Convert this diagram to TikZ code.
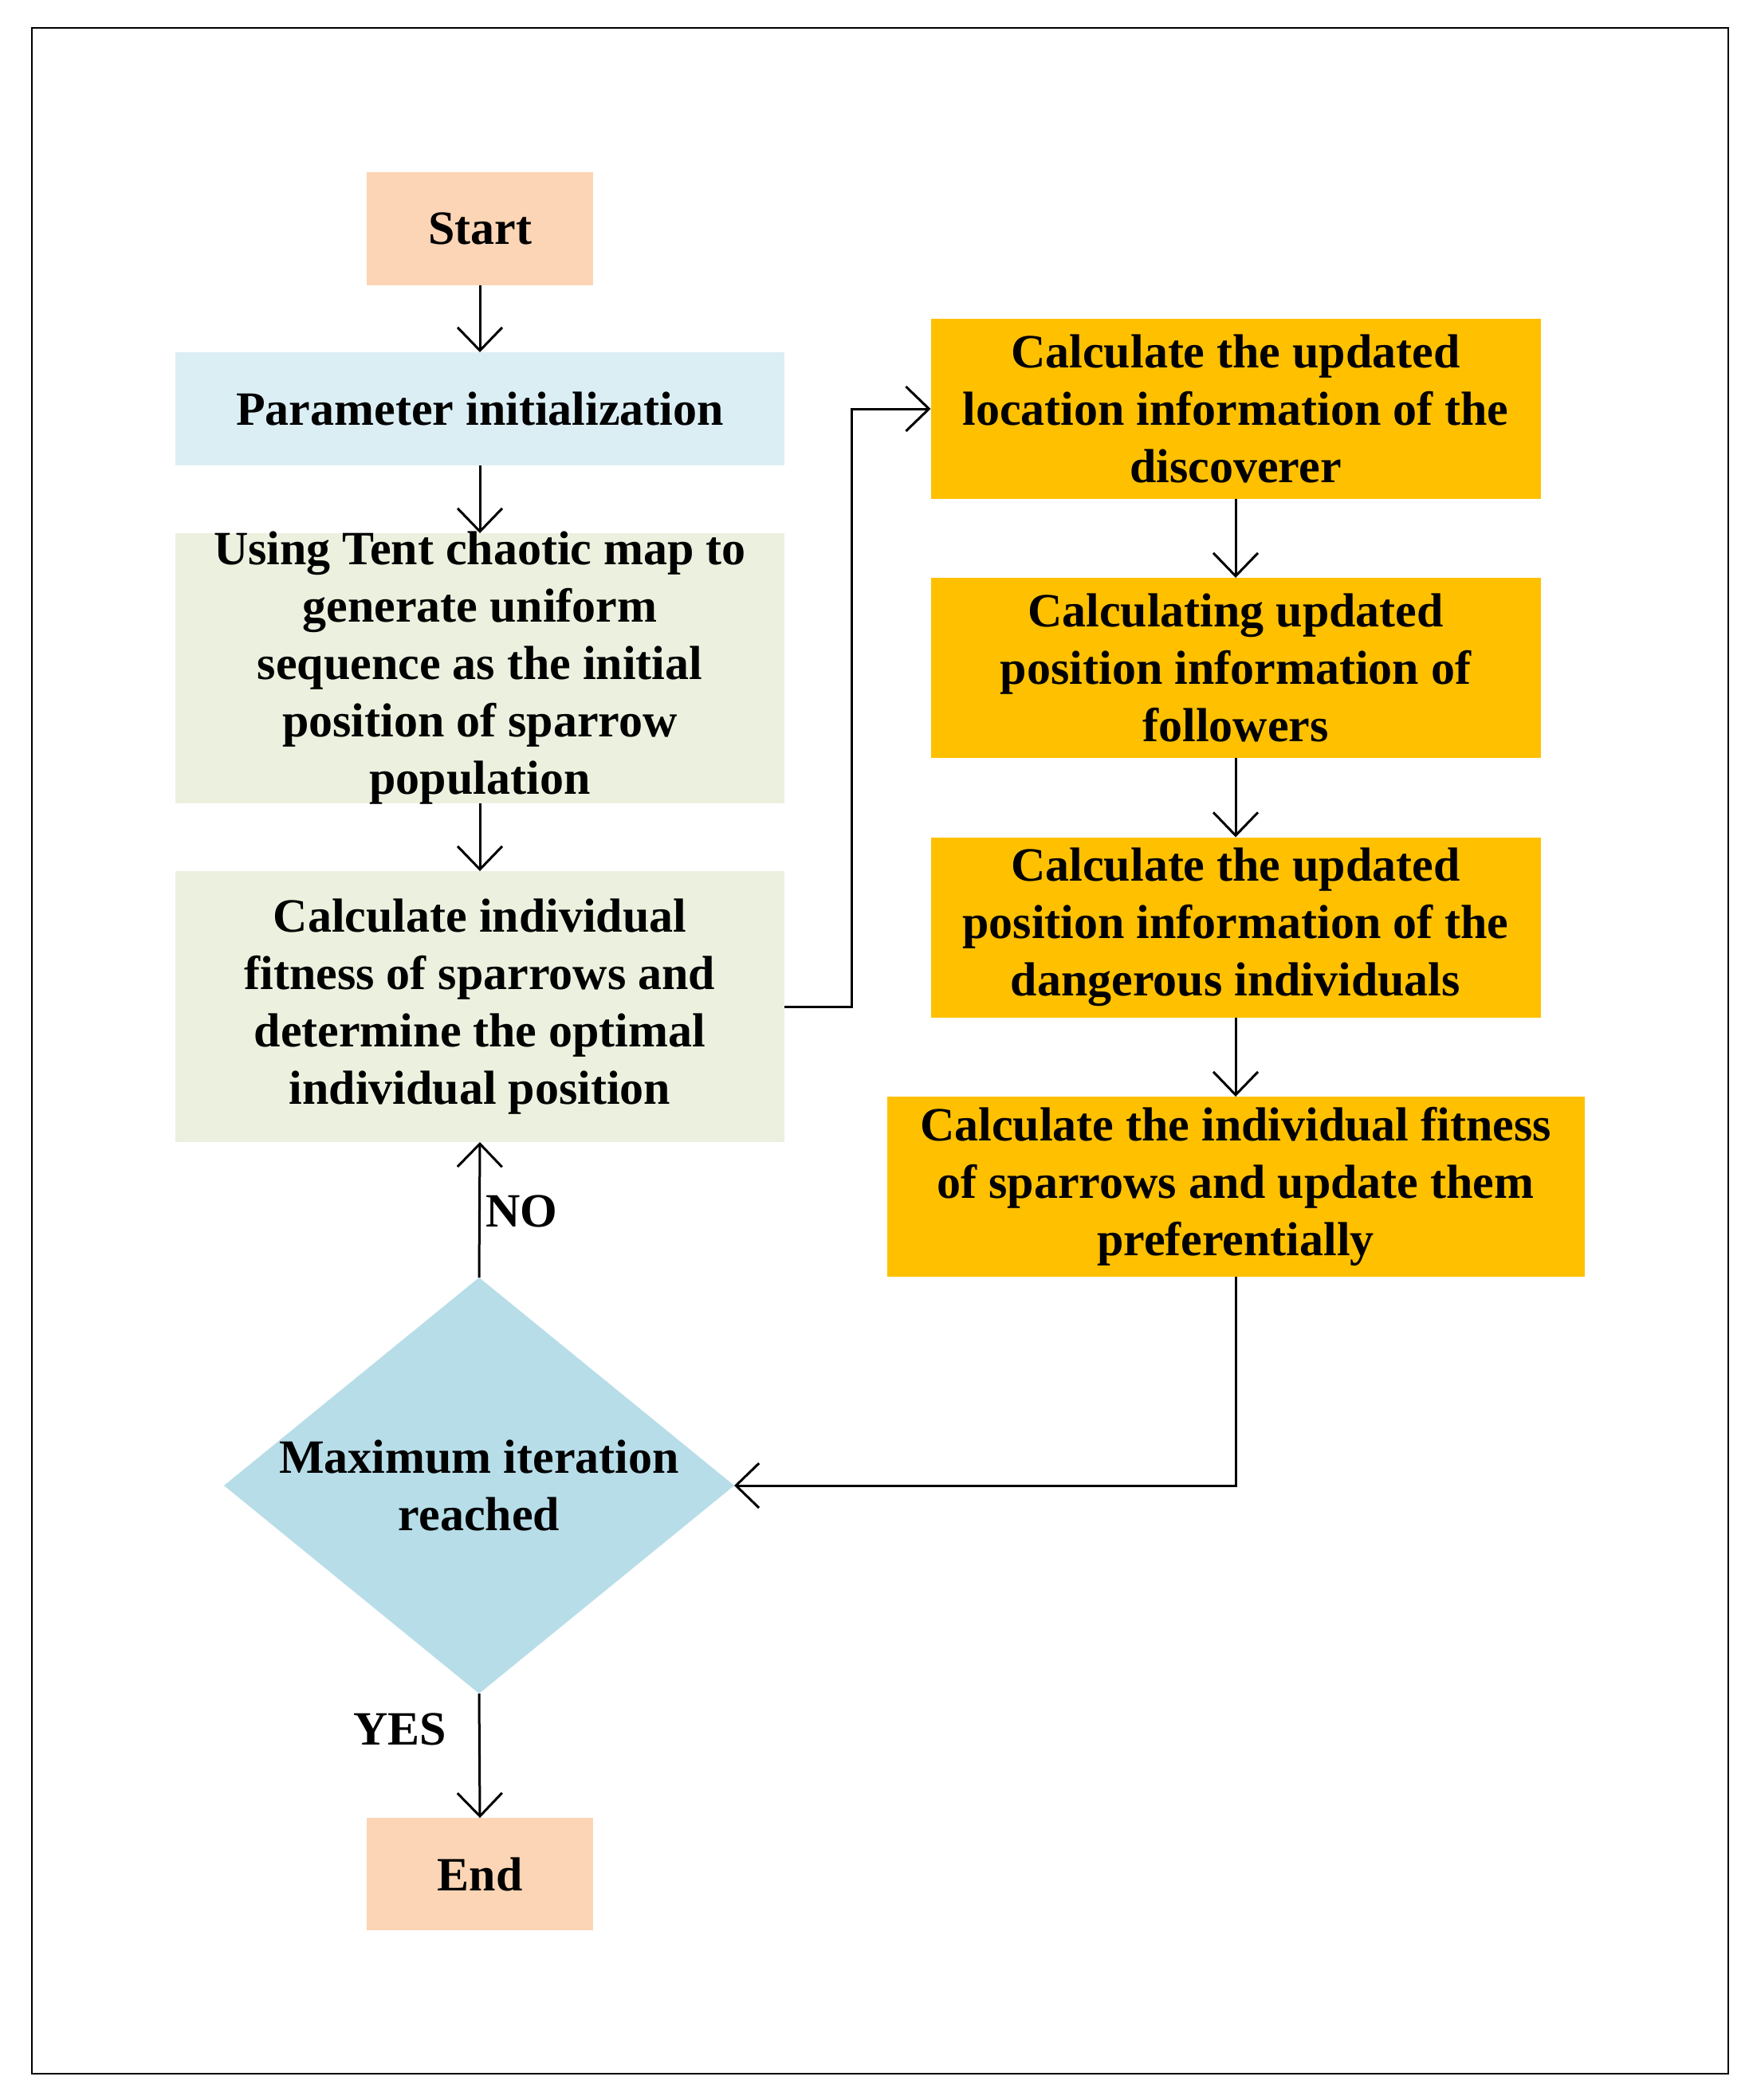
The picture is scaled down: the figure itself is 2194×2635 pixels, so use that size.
\documentclass[tikz,border=0pt]{standalone}
\usepackage{fontspec}
\setmainfont{Liberation Serif}
\usetikzlibrary{arrows.meta,shapes.geometric}
\definecolor{peach}{HTML}{FBD5B5}
\definecolor{parblue}{HTML}{DBEEF4}
\definecolor{palegreen}{HTML}{EBF1DE}
\definecolor{amber}{HTML}{FFC000}
\definecolor{diablue}{HTML}{B7DDE8}
\begin{document}
\begin{tikzpicture}[x=1pt,y=-1pt,
  box/.style={rectangle, inner sep=0pt, outer sep=0pt, draw=none, align=center,
    font=\fontsize{60}{72}\selectfont\bfseries},
  txt/.style={inner sep=0pt, outer sep=0pt, align=center,
    font=\fontsize{60}{72}\selectfont\bfseries},
  leftbox/.style={box, minimum width=764pt},
  rightbox/.style={box, fill=amber, minimum width=765pt, minimum height=226pt},
  arr/.style={line width=3pt, -{Straight Barb[length=29pt,width=56pt,line width=3pt]}},
  conn/.style={line width=3pt}]
\useasboundingbox (0,0) rectangle (2194,2635);
\draw[line width=2pt] (40,35) rectangle (2168,2602);

% left column
\node[box, fill=peach, minimum width=284pt, minimum height=142pt] (start) at (602,287) {Start};
\node[leftbox, fill=parblue, minimum height=142pt] (param) at (602,513) {Parameter initialization};
\node[leftbox, fill=palegreen, minimum height=339pt,
  label={[txt]center:Using Tent chaotic map to\\generate uniform\\sequence as the initial\\position of sparrow\\population}] (tent) at (602,838.5) {};
\node[leftbox, fill=palegreen, minimum height=340pt] (calc) at (602,1263)
  {Calculate individual\\fitness of sparrows and\\determine the optimal\\individual position};
\node[diamond, fill=diablue, inner sep=0pt, outer sep=0pt, minimum width=640pt, minimum height=522pt,
  label={[txt]center:Maximum iteration\\reached}] (dia) at (601,1864) {};
\node[box, fill=peach, minimum width=284pt, minimum height=141pt] (end) at (602,2351.5) {End};

% right column
\node[rightbox] (disc) at (1550,513) {Calculate the updated\\location information of the\\discoverer};
\node[rightbox] (foll) at (1550,838) {Calculating updated\\position information of\\followers};
\node[rightbox] (dang) at (1550,1163.5) {Calculate the updated\\position information of the\\dangerous individuals};
\node[rightbox, minimum width=875pt] (last) at (1550,1489) {Calculate the individual fitness\\of sparrows and update them\\preferentially};

% labels
\node[txt, anchor=west] (nolbl) at (609,1520) {NO};
\node[txt, anchor=east] (yeslbl) at (560,2170) {YES};

% connectors
\draw[arr] (start.south) -- (param.north);
\draw[arr] (param.south) -- (tent.north);
\draw[arr] (tent.south) -- (calc.north);
\draw[arr] (dia.north) -- (calc.south);
\draw[arr] (dia.south) -- (end.north);
\draw[arr] (calc.east) -- ++(84,0) |- (disc.west);
\draw[arr] (disc.south) -- (foll.north);
\draw[arr] (foll.south) -- (dang.north);
\draw[arr] (dang.south) -- (last.north);
\draw[arr] (last.south) |- (dia.east);
\end{tikzpicture}
\end{document}
